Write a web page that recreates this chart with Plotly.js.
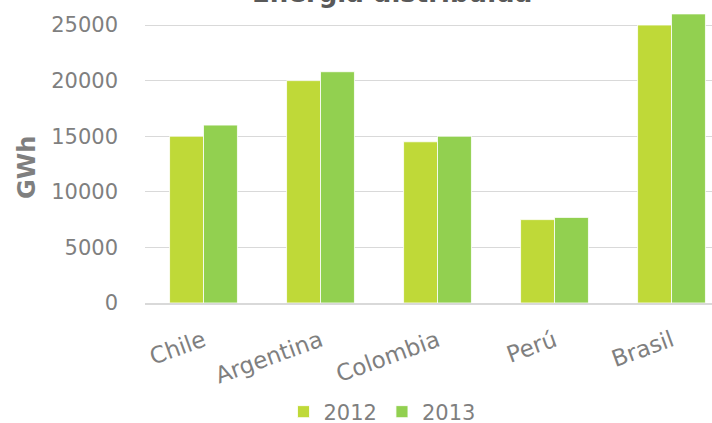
<!DOCTYPE html>
<html><head><meta charset="utf-8">
<script src="https://cdn.plot.ly/plotly-3.0.1.min.js"></script>
<style>html,body{margin:0;padding:0;background:#fff}#chart{width:712px;height:423px}</style>
</head><body><div id="chart"></div>
<script>
const categories = ["Chile", "Argentina", "Colombia", "Perú", "Brasil"];
const values2012 = [15000, 20000, 14500, 7500, 25000];
const values2013 = [16000, 20800, 15000, 7700, 26000];
const seriesNames = ["2012", "2013"];
const yTicks = [0, 5000, 10000, 15000, 20000, 25000];
const yTickLabels = ["0", "5000", "10000", "15000", "20000", "25000"];
const chartTitle = "Energía distribuida";
const yTitle = "GWh";

const font = "DejaVu Sans, sans-serif";
const gray = "#7f7f7f";
const traces = [
  {type: "bar", name: seriesNames[0], x: categories, y: values2012,
   marker: {color: "#BFD938", line: {color: "#ffffff", width: 0.8}}},
  {type: "bar", name: seriesNames[1], x: categories, y: values2013,
   marker: {color: "#92D050", line: {color: "#ffffff", width: 0.8}}}
];
const layout = {
  width: 712, height: 423,
  margin: {l: 145, r: 0, t: 0, b: 120, autoexpand: false},
  paper_bgcolor: "#fff", plot_bgcolor: "#fff",
  barmode: "group", bargap: 0.42, bargroupgap: 0,
  font: {family: font, color: gray, size: 20},
  xaxis: {range: [-0.5, 4.346], showgrid: false, showline: true, linecolor: "#d9d9d9", linewidth: 1.5,
          automargin: false, tickangle: -20, ticks: "", ticklabelstandoff: 14,
          tickfont: {size: 23, color: gray, family: font}, fixedrange: true},
  yaxis: {range: [0, 27250], tickvals: yTicks, ticktext: yTickLabels, showgrid: true, gridcolor: "#d9d9d9", gridwidth: 1,
          automargin: false, zeroline: false, ticks: "", ticklabelstandoff: 26,
          tickfont: {size: 21, color: gray, family: font}},
  legend: {orientation: "h", x: 0.418, xanchor: "center", yref: "container", y: 0.026, yanchor: "middle",
           font: {size: 21, color: gray, family: font}, itemwidth: 30, traceorder: "normal"},
  showlegend: true,
  annotations: [
    {text: "<b>" + chartTitle + "</b>", xref: "paper", yref: "paper", x: 0.4356, y: 1,
     xanchor: "center", yanchor: "bottom", yshift: -10, showarrow: false,
     font: {size: 26, color: "#595959", family: font}},
    {text: "<b>" + yTitle + "</b>", xref: "paper", yref: "paper", x: -0.2081, y: 0.4455,
     xanchor: "center", yanchor: "middle", textangle: -90, showarrow: false,
     font: {size: 24, color: gray, family: font}}
  ]
};
Plotly.newPlot("chart", traces, layout, {displayModeBar: false, staticPlot: true});
</script></body></html>
